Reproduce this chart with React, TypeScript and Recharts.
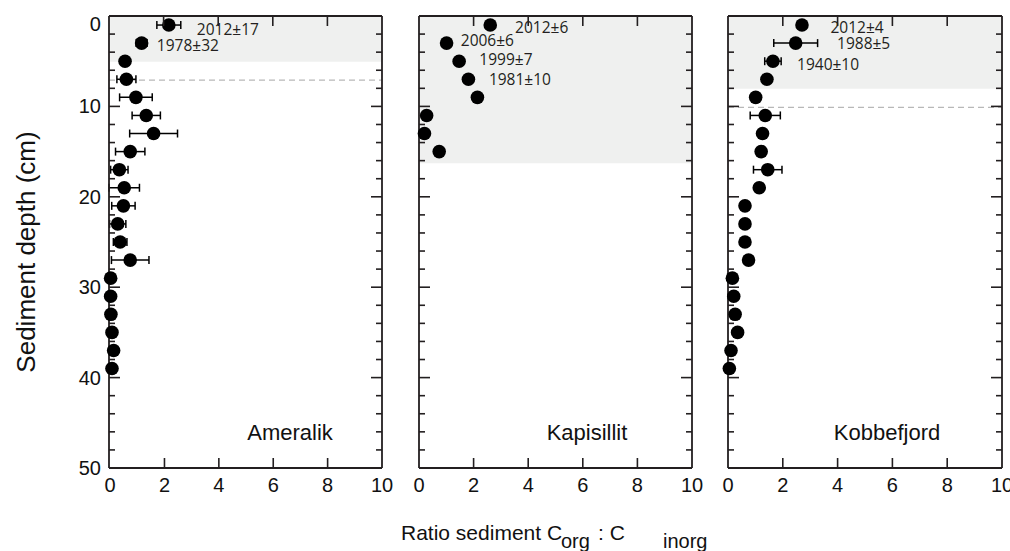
import React from 'react';
import { ScatterChart, Scatter, XAxis, YAxis, ErrorBar, ReferenceArea, ReferenceLine } from 'recharts';

// ---------- data ----------
const xTicks = [0, 2, 4, 6, 8, 10];
const yTicks = [0, 2, 4, 6, 8, 10, 12, 14, 16, 18, 20, 22, 24, 26, 28, 30, 32, 34, 36, 38, 40, 42, 44, 46, 48, 50];

const ameralikDepth = [1, 3, 5, 7, 9, 11, 13, 15, 17, 19, 21, 23, 25, 27, 29, 31, 33, 35, 37, 39];
const ameralikRatio = [2.16, 1.16, 0.55, 0.6, 0.95, 1.33, 1.6, 0.74, 0.34, 0.52, 0.49, 0.28, 0.37, 0.74, 0.02, 0.02, 0.03, 0.07, 0.13, 0.07];
const ameralikError = [0.44, 0.2, 0, 0.35, 0.6, 0.52, 0.88, 0.54, 0.32, 0.56, 0.43, 0.3, 0.25, 0.69, 0, 0, 0, 0, 0, 0];
const ameralikDates = ['2012±17', '1978±32'];
const ameralikDateX = [3.19, 1.72];
const ameralikDateDepth = [1.47, 3.21];

const kapisillitDepth = [1, 3, 5, 7, 9, 11, 13, 15];
const kapisillitRatio = [2.61, 1.01, 1.47, 1.81, 2.14, 0.28, 0.2, 0.74];
const kapisillitError = [0, 0, 0, 0, 0, 0, 0, 0];
const kapisillitDates = ['2012±6', '2006±6', '1999±7', '1981±10'];
const kapisillitDateX = [3.52, 1.53, 2.21, 2.56];
const kapisillitDateDepth = [1.22, 2.65, 4.76, 6.94];

const kobbefjordDepth = [1, 3, 5, 7, 9, 11, 13, 15, 17, 19, 21, 23, 25, 27, 29, 31, 33, 35, 37, 39];
const kobbefjordRatio = [2.7, 2.47, 1.64, 1.42, 1.01, 1.36, 1.26, 1.21, 1.45, 1.14, 0.62, 0.62, 0.62, 0.75, 0.16, 0.21, 0.26, 0.35, 0.11, 0.05];
const kobbefjordError = [0, 0.8, 0.3, 0, 0, 0.55, 0, 0, 0.52, 0.15, 0, 0, 0, 0, 0, 0, 0, 0, 0, 0];
const kobbefjordDates = ['2012±4', '1988±5', '1940±10'];
const kobbefjordDateX = [3.74, 3.98, 2.52];
const kobbefjordDateDepth = [1.18, 3.02, 5.31];

const siteNames = ['Ameralik', 'Kapisillit', 'Kobbefjord'];
const shadeDepth = [5.05, 16.3, 8.05];
const dashedDepth = [7.1, null, 10.1];

// ---------- styles ----------
const AXIS = '#231f20';
const SANS = '"Liberation Sans", Arial, Helvetica, sans-serif';
const ANNO = '"Open Sans", "Noto Sans", sans-serif';
const TINY = 0.001;

const buildPoints = (depth: number[], ratio: number[], err: number[]) =>
  depth.map((d, i) => ({ x: ratio[i], y: d, err: err[i] }));
const buildLabels = (labels: string[], xs: number[], ds: number[]) =>
  labels.map((l, i) => ({ x: xs[i], y: ds[i], label: l }));

function LeftTick(props: any) {
  const { x, y, payload, showLabels } = props;
  const v = payload.value;
  const major = v % 10 === 0;
  return (
    <g>
      <line x1={x} y1={y} x2={x + (major ? 11 : 6)} y2={y} stroke={AXIS} strokeWidth={1.6} />
      {showLabels && major ? (
        <text x={x - 8} y={y + 7 + (v === 0 ? 8 : 0)} textAnchor="end" fontSize={20} fontFamily={SANS} fill="#111">
          {v}
        </text>
      ) : null}
    </g>
  );
}

function RightTick(props: any) {
  const { x, y, payload } = props;
  const v = payload.value;
  const major = v % 10 === 0;
  return <line x1={x} y1={y} x2={x - (major ? 11 : 6)} y2={y} stroke={AXIS} strokeWidth={1.6} />;
}

function BottomTick(props: any) {
  const { x, y, payload } = props;
  const v = payload.value;
  const inner = v > 0 && v < 10;
  return (
    <g>
      {inner ? <line x1={x} y1={y} x2={x} y2={y - 10} stroke={AXIS} strokeWidth={1.6} /> : null}
      <text x={x} y={y + 24} textAnchor="middle" fontSize={20} fontFamily={SANS} fill="#111">
        {v}
      </text>
    </g>
  );
}

function TopTick(props: any) {
  const { x, y, payload } = props;
  const v = payload.value;
  const inner = v > 0 && v < 10;
  return inner ? <line x1={x} y1={y} x2={x} y2={y + 10} stroke={AXIS} strokeWidth={1.6} /> : <g />;
}

function DotShape(props: any) {
  const { cx, cy } = props;
  return <circle cx={cx} cy={cy} r={6.8} fill="#000" />;
}

function EmptyShape() {
  return <g />;
}

function LabelShape(props: any) {
  const { cx, cy, payload } = props;
  return (
    <text x={cx} y={cy} dominantBaseline="central" fontSize={15.5} fontFamily={ANNO} fill="#231f20">
      {payload.label}
    </text>
  );
}

type PanelProps = {
  left: number;
  width: number;
  margin: { top: number; right: number; bottom: number; left: number };
  leftAxisWidth: number;
  showYLabels: boolean;
  points: { x: number; y: number; err: number }[];
  labels: { x: number; y: number; label: string }[];
  shade: number;
  dashed: number | null;
};

function Panel({ left, width, margin, leftAxisWidth, showYLabels, points, labels, shade, dashed }: PanelProps) {
  const axisLine = { stroke: AXIS, strokeWidth: 1.8 };
  return (
    <div style={{ position: 'absolute', left, top: 0, width, height: 530 }}>
      <ScatterChart width={width} height={530} margin={margin}>
        <ReferenceArea xAxisId="b" yAxisId="l" x1={0} x2={10} y1={0} y2={shade} fill="#eff0ef" fillOpacity={1} stroke="none" />
        {dashed != null ? (
          <ReferenceLine xAxisId="b" yAxisId="l" y={dashed} stroke="#b8b8b8" strokeWidth={1.3} strokeDasharray="6 4" />
        ) : null}
        <XAxis
          xAxisId="b"
          orientation="bottom"
          type="number"
          dataKey="x"
          domain={[0, 10]}
          ticks={xTicks}
          interval={0}
          height={30}
          tickSize={TINY}
          tickMargin={TINY}
          tickLine={false}
          axisLine={axisLine}
          tick={(p: any) => <BottomTick {...p} />}
        />
        <XAxis
          xAxisId="t"
          orientation="top"
          type="number"
          dataKey="x"
          domain={[0, 10]}
          ticks={xTicks}
          interval={0}
          height={1}
          tickSize={TINY}
          tickMargin={TINY}
          tickLine={false}
          axisLine={axisLine}
          tick={(p: any) => <TopTick {...p} />}
        />
        <YAxis
          yAxisId="l"
          orientation="left"
          type="number"
          dataKey="y"
          domain={[0, 50]}
          reversed
          ticks={yTicks}
          interval={0}
          width={leftAxisWidth}
          tickSize={TINY}
          tickMargin={TINY}
          tickLine={false}
          axisLine={axisLine}
          tick={(p: any) => <LeftTick {...p} showLabels={showYLabels} />}
        />
        <YAxis
          yAxisId="r"
          orientation="right"
          type="number"
          dataKey="y"
          domain={[0, 50]}
          reversed
          ticks={yTicks}
          interval={0}
          width={1}
          tickSize={TINY}
          tickMargin={TINY}
          tickLine={false}
          axisLine={axisLine}
          tick={(p: any) => <RightTick {...p} />}
        />
        {/* binds the mirrored top/right frame axes to the same data so their ticks are generated */}
        <Scatter xAxisId="t" yAxisId="r" data={points} shape={EmptyShape} isAnimationActive={false} />
        <Scatter xAxisId="b" yAxisId="l" data={points} shape={(p: any) => <DotShape {...p} />} isAnimationActive={false}>
          <ErrorBar dataKey="err" direction="x" width={4} stroke="#000" strokeWidth={1.5} />
        </Scatter>
        <Scatter xAxisId="b" yAxisId="l" data={labels} shape={(p: any) => <LabelShape {...p} />} isAnimationActive={false} />
      </ScatterChart>
    </div>
  );
}

export default function App() {
  return (
    <div style={{ position: 'absolute', left: 0, top: 0, width: 1010, height: 551, background: '#fff', overflow: 'hidden' }}>
      <Panel
        left={0}
        width={400}
        margin={{ top: 15, right: 17, bottom: 32, left: 59 }}
        leftAxisWidth={50}
        showYLabels
        points={buildPoints(ameralikDepth, ameralikRatio, ameralikError)}
        labels={buildLabels(ameralikDates, ameralikDateX, ameralikDateDepth)}
        shade={shadeDepth[0]}
        dashed={dashedDepth[0]}
      />
      <Panel
        left={400}
        width={312}
        margin={{ top: 15, right: 19, bottom: 32, left: 18 }}
        leftAxisWidth={1}
        showYLabels={false}
        points={buildPoints(kapisillitDepth, kapisillitRatio, kapisillitError)}
        labels={buildLabels(kapisillitDates, kapisillitDateX, kapisillitDateDepth)}
        shade={shadeDepth[1]}
        dashed={dashedDepth[1]}
      />
      <Panel
        left={700}
        width={310}
        margin={{ top: 15, right: 7, bottom: 32, left: 27 }}
        leftAxisWidth={1}
        showYLabels={false}
        points={buildPoints(kobbefjordDepth, kobbefjordRatio, kobbefjordError)}
        labels={buildLabels(kobbefjordDates, kobbefjordDateX, kobbefjordDateDepth)}
        shade={shadeDepth[2]}
        dashed={dashedDepth[2]}
      />
      <svg width={1010} height={551} style={{ position: 'absolute', left: 0, top: 0, pointerEvents: 'none' }}>
        <text x={290} y={440} textAnchor="middle" fontSize={22} fontFamily={SANS} fill="#111">{siteNames[0]}</text>
        <text x={587} y={440} textAnchor="middle" fontSize={22} fontFamily={SANS} fill="#111">{siteNames[1]}</text>
        <text x={887} y={440} textAnchor="middle" fontSize={22} fontFamily={SANS} fill="#111">{siteNames[2]}</text>
        <text
          transform="translate(35,252) rotate(-90)"
          textAnchor="middle"
          fontSize={26}
          fontFamily={SANS}
          fill="#111"
        >
          Sediment depth (cm)
        </text>
        <text fontFamily={SANS} fill="#111">
          <tspan x={401} y={540} fontSize={21}>Ratio sediment C</tspan>
          <tspan x={561} y={548} fontSize={20}>org</tspan>
          <tspan x={598} y={540} fontSize={21}>: C</tspan>
          <tspan x={663} y={548} fontSize={20}>inorg</tspan>
        </text>
      </svg>
    </div>
  );
}
